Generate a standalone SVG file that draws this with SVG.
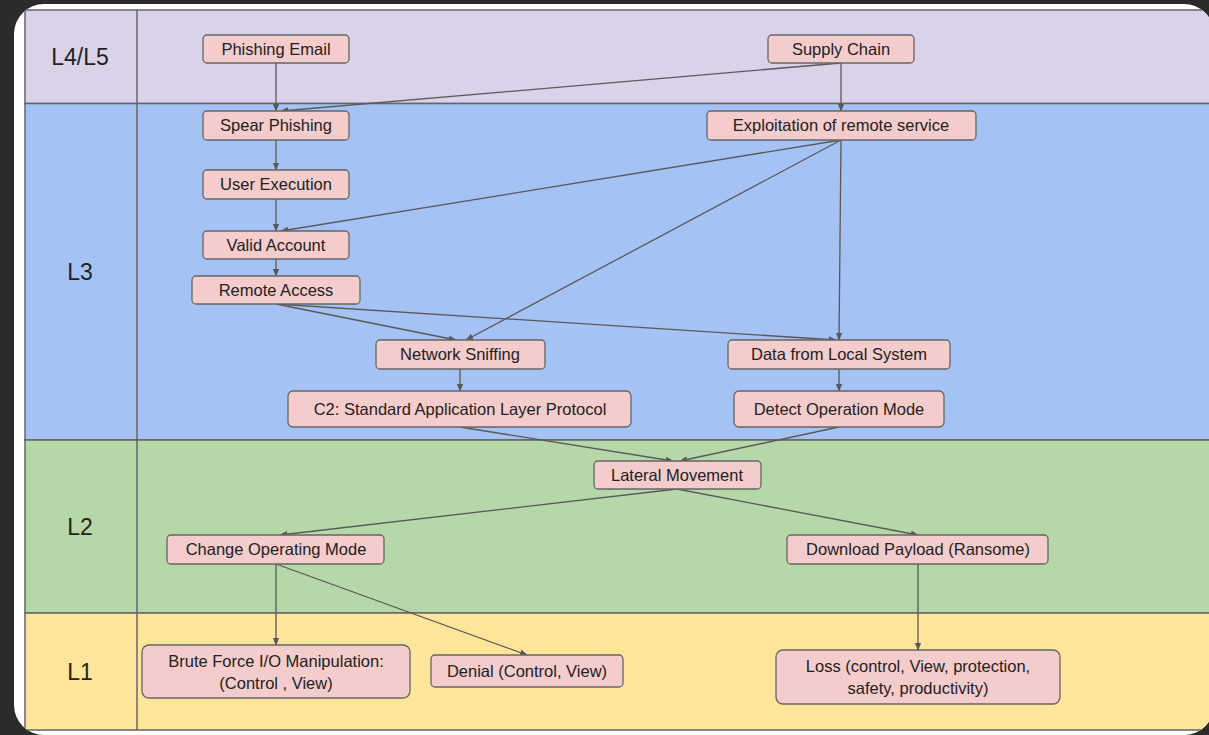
<svg xmlns="http://www.w3.org/2000/svg" width="1209" height="735" viewBox="0 0 1209 735">
<style>
.node rect{fill:#f4cccc;stroke:#666;stroke-width:1.3}
.node text{font-family:"Liberation Sans",Arial,sans-serif;font-size:16.5px;fill:#222;text-anchor:middle}
.lane{stroke:#666;stroke-width:1.5}
.lbl{font-family:"Liberation Sans",Arial,sans-serif;font-size:23px;fill:#222;text-anchor:middle}
#connectors line{stroke:#595959;stroke-width:1.3;fill:none;marker-end:url(#ah)}
</style>
<defs>
<marker id="ah" viewBox="0 0 10 10" refX="9" refY="5" markerWidth="8" markerHeight="8" markerUnits="userSpaceOnUse" orient="auto">
<path d="M0,1 L10,5 L0,9 z" fill="#595959"/>
</marker>
<clipPath id="panel"><rect x="14" y="4" width="1200" height="731" rx="30"/></clipPath>
</defs>
<rect x="0" y="0" width="1209" height="735" fill="#2b2b2b"/>
<rect x="14" y="4" width="1200" height="731" rx="30" fill="#ffffff"/>
<g id="lanes" clip-path="url(#panel)">
<rect class="lane" x="25" y="10" width="1200" height="93.5" fill="#d9d2e9"/>
<rect class="lane" x="25" y="103.5" width="1200" height="336.5" fill="#a4c2f4"/>
<rect class="lane" x="25" y="440" width="1200" height="173" fill="#b6d7a8"/>
<rect class="lane" x="25" y="613" width="1200" height="117" fill="#ffe599"/>
<line class="lane" x1="137" y1="10" x2="137" y2="730"/>
<text class="lbl" x="80" y="65">L4/L5</text>
<text class="lbl" x="80" y="280">L3</text>
<text class="lbl" x="80" y="535">L2</text>
<text class="lbl" x="80" y="680">L1</text>
</g>
<g id="connectors">
<line x1="276" y1="63" x2="276" y2="111"/>
<line x1="841" y1="63" x2="281" y2="111"/>
<line x1="841" y1="63" x2="841" y2="111"/>
<line x1="276" y1="140" x2="276" y2="170"/>
<line x1="276" y1="199" x2="276" y2="231"/>
<line x1="841" y1="140" x2="281" y2="231"/>
<line x1="841" y1="140" x2="466" y2="340"/>
<line x1="841" y1="140" x2="839" y2="340"/>
<line x1="276" y1="259" x2="276" y2="276"/>
<line x1="276" y1="304" x2="456" y2="340"/>
<line x1="276" y1="304" x2="836" y2="340"/>
<line x1="460" y1="369" x2="460" y2="391"/>
<line x1="839" y1="369" x2="839" y2="391"/>
<line x1="460" y1="427" x2="673" y2="461"/>
<line x1="839" y1="427" x2="680" y2="461"/>
<line x1="677" y1="489" x2="280" y2="535"/>
<line x1="677" y1="489" x2="918" y2="535"/>
<line x1="276" y1="564" x2="276" y2="645"/>
<line x1="276" y1="564" x2="527" y2="655"/>
<line x1="918" y1="564" x2="918" y2="650"/>
</g>
<g id="phishing-email" class="node"><rect x="203" y="35" width="146" height="28" rx="4"/><text x="276" y="55">Phishing Email</text></g>
<g id="supply-chain" class="node"><rect x="768" y="35" width="146" height="28" rx="4"/><text x="841" y="55">Supply Chain</text></g>
<g id="spear-phishing" class="node"><rect x="203" y="111" width="146" height="29" rx="4"/><text x="276" y="131">Spear Phishing</text></g>
<g id="exploitation" class="node"><rect x="707" y="111" width="269" height="29" rx="4"/><text x="841" y="131">Exploitation of remote service</text></g>
<g id="user-execution" class="node"><rect x="203" y="170" width="146" height="29" rx="4"/><text x="276" y="190">User Execution</text></g>
<g id="valid-account" class="node"><rect x="203" y="231" width="146" height="28" rx="4"/><text x="276" y="251">Valid Account</text></g>
<g id="remote-access" class="node"><rect x="192" y="276" width="168" height="28" rx="4"/><text x="276" y="296">Remote Access</text></g>
<g id="network-sniffing" class="node"><rect x="376" y="340" width="169" height="29" rx="4"/><text x="460" y="360">Network Sniffing</text></g>
<g id="data-local" class="node"><rect x="728" y="340" width="222" height="29" rx="4"/><text x="839" y="360">Data from Local System</text></g>
<g id="c2" class="node"><rect x="288" y="391" width="343" height="36" rx="5"/><text x="460" y="415">C2: Standard Application Layer Protocol</text></g>
<g id="detect-mode" class="node"><rect x="734" y="391" width="210" height="36" rx="5"/><text x="839" y="415">Detect Operation Mode</text></g>
<g id="lateral" class="node"><rect x="594" y="461" width="167" height="28" rx="4"/><text x="677" y="481">Lateral Movement</text></g>
<g id="change-mode" class="node"><rect x="167" y="535" width="217" height="29" rx="4"/><text x="276" y="555">Change Operating Mode</text></g>
<g id="download" class="node"><rect x="787" y="535" width="261" height="29" rx="4"/><text x="918" y="555">Download Payload (Ransome)</text></g>
<g id="brute-force" class="node"><rect x="142" y="645" width="268" height="53" rx="7"/><text x="276" y="667">Brute Force I/O Manipulation:</text><text x="276" y="689">(Control , View)</text></g>
<g id="denial" class="node"><rect x="431" y="655" width="192" height="32" rx="4"/><text x="527" y="677">Denial (Control, View)</text></g>
<g id="loss" class="node"><rect x="776" y="650" width="284" height="54" rx="7"/><text x="918" y="672">Loss (control, View, protection,</text><text x="918" y="694">safety, productivity)</text></g>
</svg>
